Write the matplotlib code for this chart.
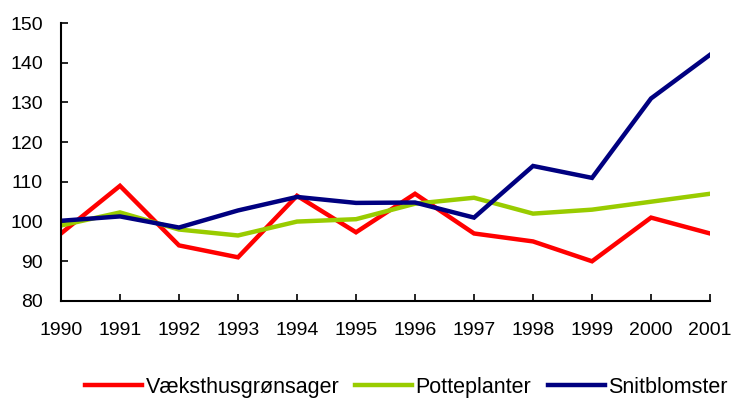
import matplotlib
matplotlib.use("Agg")
import matplotlib.pyplot as plt

years = list(range(1990, 2002))
vaeksthus = [97, 109, 94, 91, 106.5, 97.3, 107, 97, 95, 90, 101, 97]
potteplanter = [99, 102.3, 98, 96.5, 100, 100.6, 104.5, 106, 102, 103, 105, 107]
snitblomster = [100.2, 101.3, 98.5, 102.8, 106.2, 104.7, 104.8, 101, 114, 111, 131, 142]
labels = ['Væksthusgrønsager', 'Potteplanter', 'Snitblomster']
colors = ['#FF0000', '#99CC00', '#000080']

plt.rcParams['font.family'] = ['Liberation Sans', 'DejaVu Sans']

fig = plt.figure(figsize=(7.32, 4), dpi=100)
ax = fig.add_axes([0.0833, 0.2475, 0.8867, 0.695])

for series, lab, col in zip([vaeksthus, potteplanter, snitblomster], labels, colors):
    ax.plot(years, series, color=col, lw=3.2, label=lab, solid_joinstyle='miter')

ax.set_xlim(1990, 2001)
ax.set_ylim(80, 150)
ax.set_xticks(years)
ax.set_yticks(range(80, 151, 10))
ax.spines['top'].set_visible(False)
ax.spines['right'].set_visible(False)
ax.spines['left'].set_linewidth(1.5)
ax.spines['bottom'].set_linewidth(1.5)
ax.tick_params(axis='both', direction='in', length=5, width=1.2, labelsize=14)
ax.tick_params(axis='x', pad=15)
ax.tick_params(axis='y', pad=13)

fig.legend(loc='center', bbox_to_anchor=(0.555, 0.032), ncol=3, frameon=False,
           fontsize=15.5, handlelength=2.65, handletextpad=0.15, columnspacing=0.75,
           borderpad=0, borderaxespad=0)

fig.savefig('out.png', dpi=100)
